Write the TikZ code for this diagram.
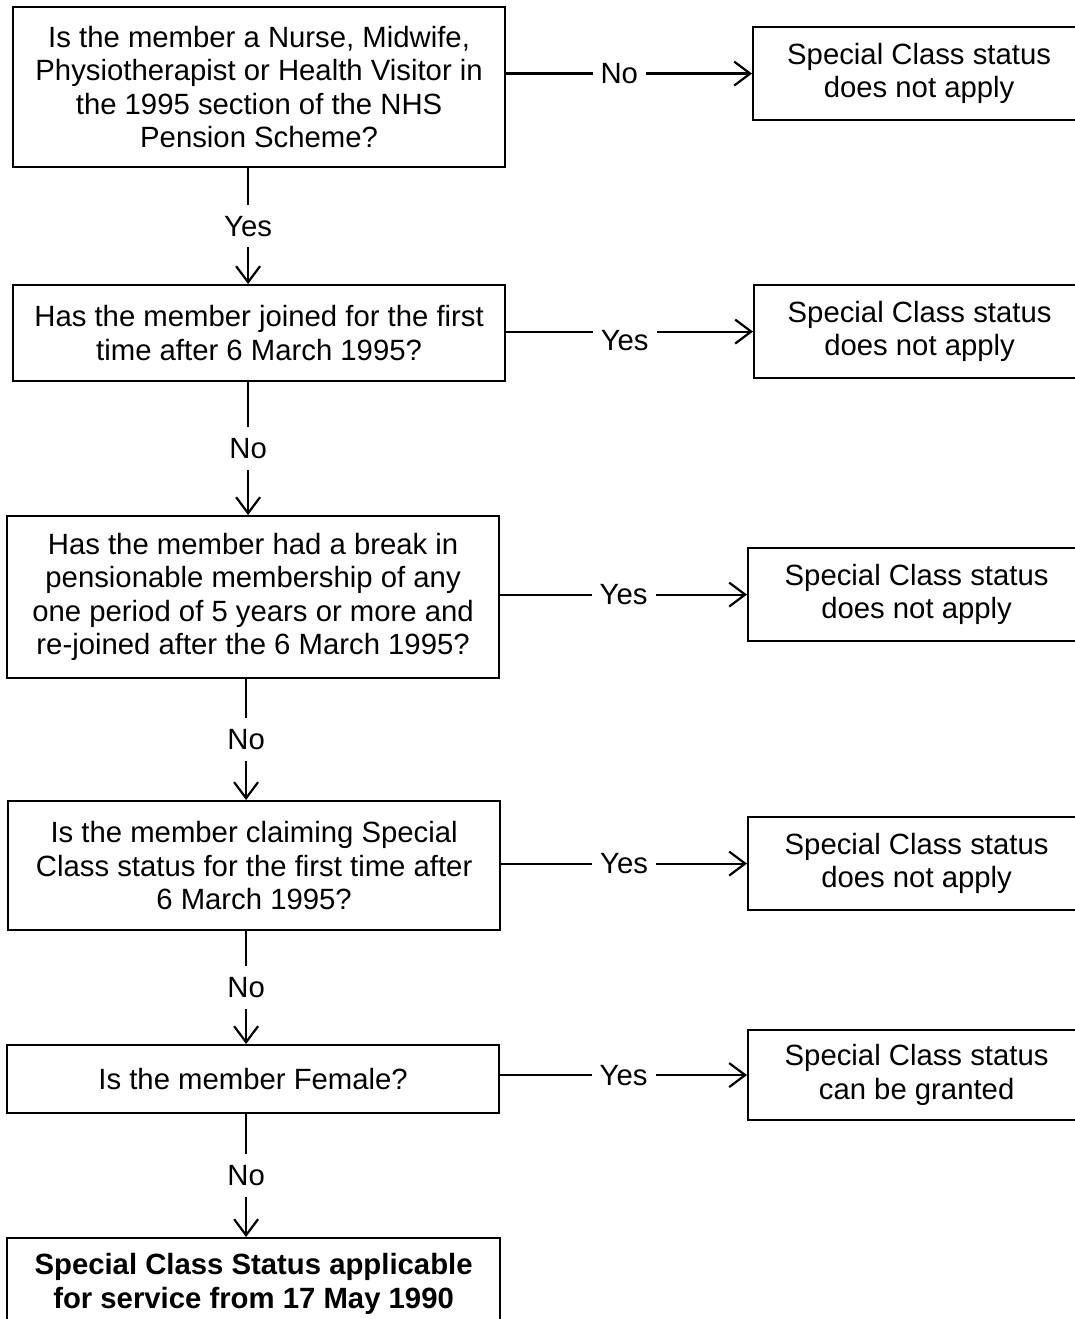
\documentclass[tikz,border=0pt]{standalone}
\usepackage{fontspec}
\setmainfont{Liberation Sans}
\usetikzlibrary{arrows.meta}

\begin{document}
\begin{tikzpicture}[x=1pt, y=-1pt, line width=2.2pt,
  box/.style={draw, anchor=north west, align=center, inner sep=0pt, font=\fontsize{29.3}{33.5}\selectfont},
  lbl/.style={fill=white, inner xsep=8pt, inner ysep=11pt, font=\fontsize{29.3}{33.5}\selectfont},
  arr/.style={-{Straight Barb[length=16pt, width=24pt]}}]
\useasboundingbox (0,0) rectangle (1075,1319);

% questions down the left
\node[box, minimum width=492, minimum height=160] (q1) at (12,6) {Is the member a Nurse, Midwife,\\ Physiotherapist or Health Visitor in\\ the 1995 section of the NHS\\ Pension Scheme?} ;
\node[box, minimum width=492, minimum height=96] (q2) at (12,284) {Has the member joined for the first\\ time after 6 March 1995?} ;
\node[box, minimum width=492, minimum height=162] (q3) at (6,515) {Has the member had a break in\\ pensionable membership of any\\ one period of 5 years or more and\\ re-joined after the 6 March 1995?} ;
\node[box, minimum width=492, minimum height=129] (q4) at (7,800) {Is the member claiming Special\\ Class status for the first time after\\ 6 March 1995?} ;
\node[box, minimum width=492, minimum height=68] (q5) at (6,1044) {Is the member Female?} ;
\node[box, minimum width=493, minimum height=92] (fin) at (6,1237) {\textbf{Special Class Status applicable}\\ \textbf{for service from 17 May 1990}} ;

% outcomes on the right
\node[box, minimum width=332, minimum height=93] (r1) at (752,26) {Special Class status\\ does not apply} ;
\node[box, minimum width=331, minimum height=93] (r2) at (753,284) {Special Class status\\ does not apply} ;
\node[box, minimum width=337, minimum height=93] (r3) at (747,547) {Special Class status\\ does not apply} ;
\node[box, minimum width=337, minimum height=93] (r4) at (747,816) {Special Class status\\ does not apply} ;
\node[box, minimum width=337, minimum height=90] (r5) at (747,1029) {Special Class status\\ can be granted} ;

\draw[arr] (q1.east |- r1.west) -- node[lbl, pos=0.46]{No} (r1.west);
\draw[arr] (q2.east |- r2.west) -- node[lbl, pos=0.48, yshift=-9pt]{Yes} (r2.west);
\draw[arr] (q3.east |- r3.west) -- node[lbl, pos=0.5]{Yes} (r3.west);
\draw[arr] (q4.east |- r4.west) -- node[lbl, pos=0.5]{Yes} (r4.west);
\draw[arr] (q5.east |- r5.west) -- node[lbl, pos=0.5]{Yes} (r5.west);

\draw[arr] ([xshift=-11pt]q1.south) -- node[lbl]{Yes} ([xshift=-11pt]q1.south |- q2.north);
\draw[arr] ([xshift=-11pt]q2.south) -- node[lbl]{No} ([xshift=-11pt]q2.south |- q3.north);
\draw[arr] ([xshift=-7pt]q3.south) -- node[lbl]{No} ([xshift=-7pt]q3.south |- q4.north);
\draw[arr] ([xshift=-8pt]q4.south) -- node[lbl]{No} ([xshift=-8pt]q4.south |- q5.north);
\draw[arr] ([xshift=-7pt]q5.south) -- node[lbl]{No} ([xshift=-7pt]q5.south |- fin.north);
\end{tikzpicture}
\end{document}
